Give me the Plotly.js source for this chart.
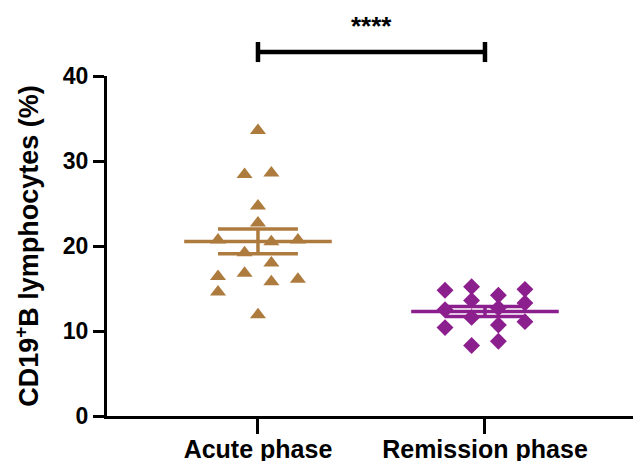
<!DOCTYPE html>
<html>
<head>
<meta charset="utf-8">
<script src="https://cdn.plot.ly/plotly-3.0.1.min.js"></script>
<style>html,body{margin:0;padding:0;background:#fff}#chart{width:633px;height:461px}</style>
</head>
<body>
<div id="chart"></div>
<script>
// Category labels
var categories = ['Acute phase', 'Remission phase'];

// CD19+B lymphocytes (%) per patient, acute phase
var acuteValues = [33.6, 28.4, 28.6, 24.7, 22.7, 20.7, 20.5, 20.7, 19.2, 18.0, 16.8, 16.4, 16.1, 15.8, 14.6, 11.9];
// scatter column of each acute point (-2..2)
var acuteColumn = [0, -1, 1, 0, 0, -2, 1, 2, -1, 1, -1, -2, 2, 1, -2, 0];

// CD19+B lymphocytes (%) per patient, remission phase
var remissionValues = [14.8, 15.2, 14.2, 14.9, 13.6, 13.3, 12.5, 12.7, 11.6, 10.7, 11.1, 10.4, 8.3, 8.8];
var remissionColumn = [-2, -1, 1, 2, -1, 2, -2, 1, -1, 1, 2, -2, -1, 1];

// y axis ticks
var yTicks = [0, 10, 20, 30, 40];
var significance = '****';

var colAcute = '#AE7B3F';
var colRem = '#8C1F8E';
var colOffsets = {'-2': -0.176, '-1': -0.059, '0': 0, '1': 0.059, '2': 0.176};

function xs(base, cols) { return cols.map(function (c) { return base + colOffsets[String(c)]; }); }
function mean(a) { return a.reduce(function (s, v) { return s + v; }, 0) / a.length; }
function sem(a) {
  var m = mean(a);
  var v = a.reduce(function (s, x) { return s + (x - m) * (x - m); }, 0) / (a.length - 1);
  return Math.sqrt(v) / Math.sqrt(a.length);
}

var traces = [
  {x: xs(0, acuteColumn), y: acuteValues, type: 'scatter', mode: 'markers', cliponaxis: false,
   marker: {symbol: 'triangle-up', size: 14, color: colAcute}, hoverinfo: 'y'},
  {x: xs(1, remissionColumn), y: remissionValues, type: 'scatter', mode: 'markers', cliponaxis: false,
   marker: {symbol: 'diamond', size: 13, color: colRem}, hoverinfo: 'y'}
];

var shapes = [];
[[0, acuteValues, colAcute], [1, remissionValues, colRem]].forEach(function (g) {
  var c = g[0], m = mean(g[1]), s = sem(g[1]), col = g[2];
  var ln = {color: col, width: 3.5};
  shapes.push({type: 'line', xref: 'x', yref: 'y', x0: c - 0.325, x1: c + 0.325, y0: m, y1: m, line: ln});
  shapes.push({type: 'line', xref: 'x', yref: 'y', x0: c - 0.176, x1: c + 0.176, y0: m + s, y1: m + s, line: ln});
  shapes.push({type: 'line', xref: 'x', yref: 'y', x0: c - 0.176, x1: c + 0.176, y0: m - s, y1: m - s, line: ln});
  shapes.push({type: 'line', xref: 'x', yref: 'y', x0: c, x1: c, y0: m - s, y1: m + s, line: ln});
});
// significance bracket
shapes.push({type: 'line', xref: 'x', yref: 'paper', x0: 0, x1: 1, y0: 1.0706, y1: 1.0706, line: {color: '#000', width: 4.5}});
shapes.push({type: 'line', xref: 'x', yref: 'paper', x0: 0, x1: 0, y0: 1.041, y1: 1.1, line: {color: '#000', width: 4.5}});
shapes.push({type: 'line', xref: 'x', yref: 'paper', x0: 1, x1: 1, y0: 1.041, y1: 1.1, line: {color: '#000', width: 4.5}});

var fontFam = 'Arial, "Liberation Sans", sans-serif';
var layout = {
  width: 633, height: 461,
  margin: {l: 107, r: 0, t: 76, b: 45},
  paper_bgcolor: '#fff', plot_bgcolor: '#fff',
  showlegend: false,
  font: {family: fontFam, color: '#000'},
  xaxis: {
    range: [-0.665, 1.652], tickvals: [0, 1], ticktext: categories,
    showline: true, linewidth: 3, linecolor: '#000', ticks: 'outside', ticklen: 15, tickwidth: 3, tickcolor: '#000',
    showgrid: false, zeroline: false, ticklabelstandoff: -6,
    tickfont: {family: fontFam, size: 25, weight: 'bold', color: '#000'}
  },
  yaxis: {
    range: [0, 40], tickvals: yTicks,
    showline: true, linewidth: 3, linecolor: '#000', ticks: 'outside', ticklen: 11, tickwidth: 3, tickcolor: '#000',
    showgrid: false, zeroline: false,
    tickfont: {family: fontFam, size: 23, weight: 'bold', color: '#000'},
    title: {text: 'CD19<sup>+</sup>B lymphocytes (%)', standoff: 17, font: {family: fontFam, size: 27, weight: 'bold', color: '#000'}}
  },
  shapes: shapes,
  annotations: [{xref: 'x', yref: 'paper', x: 0.5, y: 1.147, text: significance, showarrow: false,
    font: {family: fontFam, size: 26, weight: 'bold', color: '#000'}, yanchor: 'middle'}]
};

Plotly.newPlot('chart', traces, layout, {displayModeBar: false, staticPlot: true});
</script>
</body>
</html>
